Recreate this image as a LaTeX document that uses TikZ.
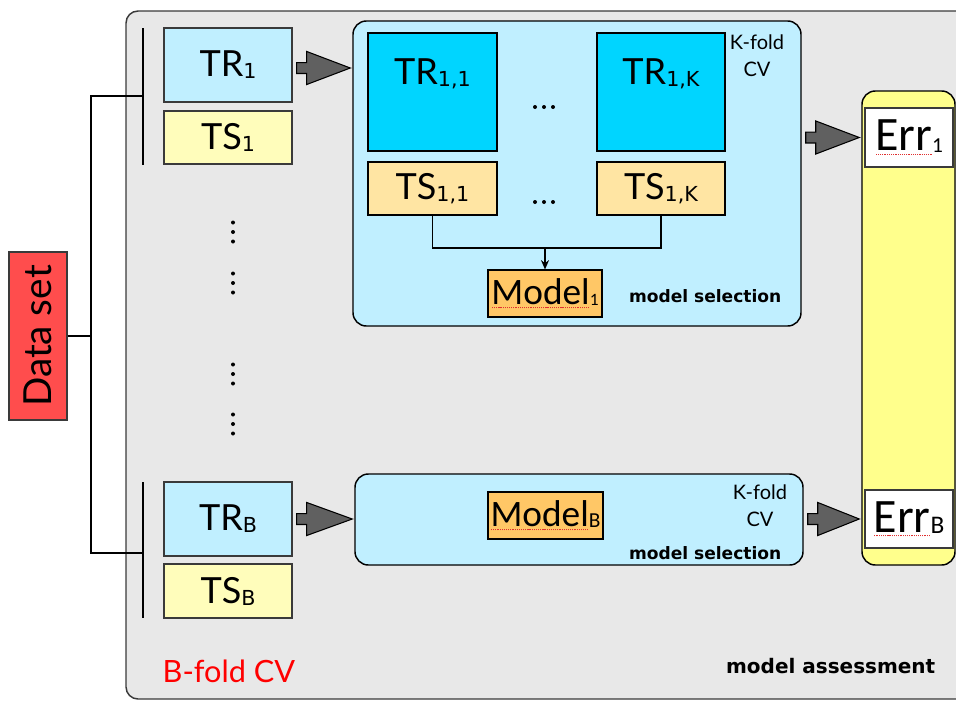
\documentclass[tikz,border=0pt]{standalone}
\usepackage{fontspec}
\setmainfont{Lato}
\newfontfamily\calfont{Carlito}
\newfontfamily\subfont{DejaVu Sans}
\newfontfamily\tagfont{DejaVu Sans}
\usetikzlibrary{calc,fit,arrows.meta}

\definecolor{bggray}{HTML}{E8E8E8}
\definecolor{lightcyan}{HTML}{C0EFFF}
\definecolor{brightcyan}{HTML}{00D5FF}
\definecolor{paleyellow}{HTML}{FFFDBB}
\definecolor{wheat}{HTML}{FFE5A3}
\definecolor{modelorange}{HTML}{FFC766}
\definecolor{colyellow}{HTML}{FFFF8C}
\definecolor{dsred}{HTML}{FF4D4D}
\definecolor{arrowgray}{HTML}{606060}
\definecolor{spellred}{HTML}{E03030}
\definecolor{edgegray}{HTML}{3A3A3A}

% subscripts in the TR/TS labels
\newcommand\sbs[1]{\raisebox{-1.5pt}{\fontsize{15.5}{15.5}\selectfont\subfont #1}}
% subscripts in the Model/Err labels
\newcommand\csub[2]{\raisebox{-1pt}{\fontsize{#1}{#1}\selectfont #2}}
% dotted red underline under a word
\newsavebox\spbox
\newcommand\spell[1]{\sbox\spbox{#1}\rlap{\color{spellred}\raisebox{-3pt}{\hbox to \wd\spbox{\xleaders\hbox to 1.6pt{\hss\rule{0.9pt}{0.9pt}\hss}\hfill}}}\usebox\spbox}

% fat block arrow from point #1 to point #2 (level of #2)
\newcommand\blockarrow[2]{%
  \draw[blk] let \p1=(#1), \p2=(#2) in
    (\x1+3pt,\y2-4.1pt) -- (\x1+10.5pt,\y2-4.1pt) -- (\x1+10.5pt,\y2-12.4pt)
    -- (\x2-1.5pt,\y2) -- (\x1+10.5pt,\y2+12.4pt) -- (\x1+10.5pt,\y2+4.1pt)
    -- (\x1+3pt,\y2+4.1pt) -- cycle;}

\begin{document}
\begin{tikzpicture}[x=0.75pt,y=-0.75pt,
  area/.style={inner sep=0pt},
  big/.style={font=\fontsize{27}{27}\selectfont,inner sep=0pt},
  mtxt/.style={font=\calfont\fontsize{28}{28}\selectfont,inner sep=0pt},
  etxt/.style={font=\calfont\fontsize{36}{36}\selectfont,inner sep=0pt},
  tbox/.style={area,draw=edgegray,line width=1pt},
  fold/.style={area,draw=black,line width=1pt},
  panel/.style={area,draw=black,line width=1.1pt,fill=lightcyan,rounded corners=10pt},
  mbox/.style={area,draw=black,line width=0.8pt,fill=modelorange},
  ebox/.style={area,draw=edgegray,line width=0.8pt,fill=white},
  small/.style={font=\fontsize{15}{20}\selectfont,align=center},
  boldtag/.style={font=\tagfont\bfseries\fontsize{12.8}{12.8}\selectfont},
  blk/.style={fill=arrowgray,draw=black,line width=0.8pt},
  brace/.style={line width=1.5pt,draw=black},
  vdot/.style={fill=black}]

\useasboundingbox (0,0) rectangle (956,700);
\clip (0,0) rectangle (956,700);

% model assessment frame
\node[area,draw=edgegray,line width=1.1pt,fill=bggray,rounded corners=9pt,
      fit={(126,11) (990,699)}] (outer) {};

% data set
\node[area,draw=edgegray,line width=1pt,fill=dsred,fit={(9,252) (67,420)}] (DS) {};
\node[rotate=90,font=\fontsize{29}{29}\selectfont] (DSt) at (DS.center) {Data set};

% splits of the outer loop
\node[tbox,fill=lightcyan,fit={(164,28) (292,102)},label={[big]center:TR\sbs{1}}] (TR1) {};
\node[tbox,fill=paleyellow,fit={(164,111) (292,164)},label={[big]center:TS\sbs{1}}] (TS1) {};
\node[tbox,fill=lightcyan,fit={(164,482) (292,556)},label={[big]center:TR\sbs{B}}] (TRB) {};
\node[tbox,fill=paleyellow,fit={(164,564) (292,618)},label={[big]center:TS\sbs{B}}] (TSB) {};

% bracket joining the data set to the splits
\coordinate (sp1) at (91,96);
\coordinate (spB) at (91,553);
\coordinate (b1t) at (143,28);
\coordinate (b1b) at (143,165);
\coordinate (bBt) at (143,482);
\coordinate (bBb) at (143,618);
\draw[brace] (DS.east) -- (sp1 |- DS.east);
\draw[brace] (b1t |- sp1) -- (sp1) -- (spB) -- (b1t |- spB);
\draw[brace] (b1t) -- (b1b);
\draw[brace] (bBt) -- (bBb);

% vertical ellipses
\foreach \yc in {232,283,374,424}
  \foreach \dd in {-9.5,0,9.5}
    \fill[vdot] (233,\yc+\dd) circle (1.5pt);

% inner K-fold CV, first split
\node[panel,fit={(353,21) (801,326)}] (box1) {};
\node[fold,fill=brightcyan,fit={(368,33) (497,151)}] (TR11) {};
\node[big] (TR11t) at ([yshift=-31pt]TR11.north) {TR\sbs{1,1}};
\node[fold,fill=brightcyan,fit={(597,33) (725,151)}] (TR1K) {};
\node[big] (TR1Kt) at ([yshift=-31pt]TR1K.north) {TR\sbs{1,K}};
\node[fold,fill=wheat,fit={(368,162) (497,215)},label={[big]center:TS\sbs{1,1}}] (TS11) {};
\node[fold,fill=wheat,fit={(597,162) (725,215)},label={[big]center:TS\sbs{1,K}}] (TS1K) {};
\foreach \xc in {535,544,553} {
  \fill[vdot] (\xc,107) circle (1.5pt);
  \fill[vdot] (\xc,202) circle (1.5pt);
}
\node[mbox,fit={(488,270) (602,317)},label={[mtxt]center:\spell{Model}\csub{13}{1}}] (M1) {};
\coordinate (bus) at (M1.north |- 0,248);
\draw[line width=1pt] (TS11.south) |- (bus) -| (TS1K.south);
\draw[line width=1pt,-{Stealth[length=7pt,width=6pt]}] (bus) -- (M1.north);
\node[small] (kf1) at (757,56) {K-fold\\CV};
\node[boldtag,anchor=east] (ms1) at (786,296) {model selection};

% inner K-fold CV, last split
\node[panel,fit={(355,474) (803,565)}] (boxB) {};
\node[mbox,fit={(488,492) (603,539)},label={[mtxt]center:\spell{Model}\csub{16}{B}}] (MB) {};
\node[small] (kfB) at (760,506) {K-fold\\CV};
\node[boldtag,anchor=east] (msB) at (786,553) {model selection};

% error column
\node[area,draw=black,line width=1.1pt,fill=colyellow,rounded corners=10pt,
      fit={(862,91) (955,565)}] (col) {};
\node[ebox,fit={(865,108) (953,167)},label={[etxt]center:\spell{Err}\csub{16}{1}}] (E1) {};
\node[ebox,fit={(865,490) (953,548)},label={[etxt]center:\spell{Err}\csub{19}{B}}] (EB) {};

% flow arrows
\coordinate (a1) at (0,68);
\blockarrow{TR1.east}{box1.west |- a1}
\blockarrow{box1.east}{col.west |- E1.west}
\blockarrow{TRB.east}{boxB.west |- TRB.east}
\blockarrow{boxB.east}{col.west |- EB.west}

% captions
\node[boldtag,font=\tagfont\bfseries\fontsize{15}{15}\selectfont,anchor=east] (ma) at (940,666) {model assessment};
\node[anchor=west,text=red,font=\fontsize{23}{23}\selectfont] (bf) at (158,671) {B-fold CV};
\end{tikzpicture}
\end{document}
